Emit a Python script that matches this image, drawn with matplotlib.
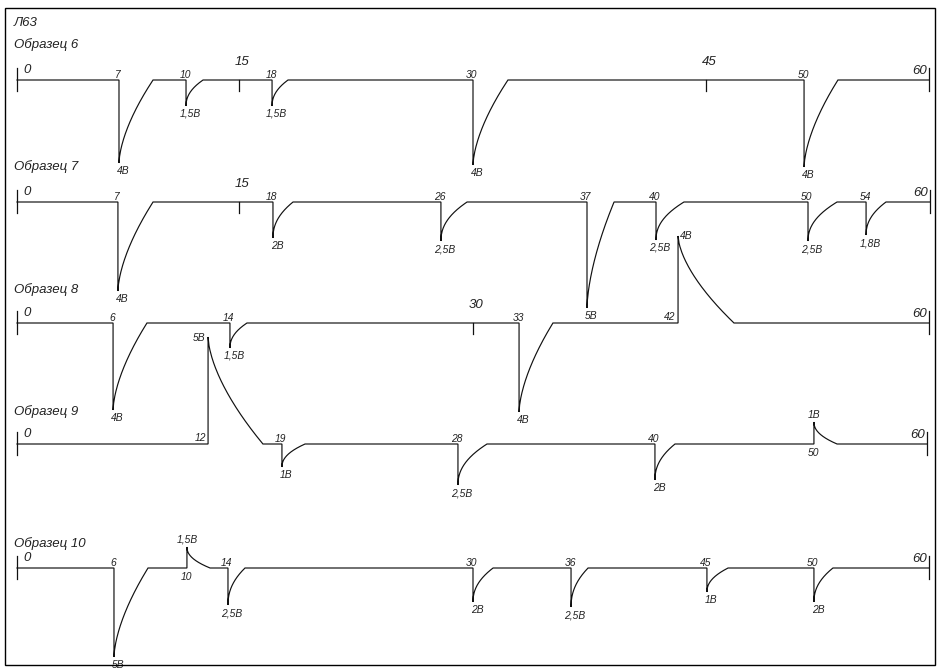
import numpy as np
import matplotlib
matplotlib.use("Agg")
import matplotlib.pyplot as plt
from matplotlib.patches import Rectangle

# ---------------- data ----------------
title = "Л63"
sample_names = ["Образец 6", "Образец 7", "Образец 8", "Образец 9", "Образец 10"]

# scale marks: drawn position (min) and label
s6_pos = [0, 14.61, 45.33, 60.0]; s6_lbl = ["0", "15", "45", "60"]
s7_pos = [0, 14.61, 60.07];       s7_lbl = ["0", "15", "60"]
s8_pos = [0, 30.0, 60.0];         s8_lbl = ["0", "30", "60"]
s9_pos = [0, 59.87];              s9_lbl = ["0", "60"]
s10_pos = [0, 60.0];              s10_lbl = ["0", "60"]

# events: time label, drawn position (min), end of relaxation (min),
# drawn deflection (negative = down), voltage label
t6_lbl = ["7", "10", "18", "30", "50"]
t6_pos = [6.71, 11.12, 16.78, 30.0, 51.78]
t6_end = [8.95, 12.24, 17.83, 32.30, 54.01]
t6_amp = [-4.15, -1.30, -1.30, -4.25, -4.35]
t6_volt = ["4В", "1,5В", "1,5В", "4В", "4В"]

t7_lbl = ["7", "18", "26", "37", "40", "50", "54"]
t7_pos = [6.64, 16.84, 27.89, 37.50, 42.04, 52.04, 55.86]
t7_end = [8.95, 18.16, 29.61, 39.28, 43.88, 53.95, 57.17]
t7_amp = [-4.45, -1.80, -1.95, -5.30, -1.90, -1.95, -1.65]
t7_volt = ["4В", "2В", "2,5В", "5В", "2,5В", "2,5В", "1,8В"]

t8_lbl = ["6", "14", "33", "42"]
t8_pos = [6.32, 14.01, 33.03, 43.49]
t8_end = [8.55, 15.13, 35.26, 47.17]
t8_amp = [-4.35, -1.25, -4.45, 4.35]
t8_volt = ["4В", "1,5В", "4В", "4В"]

t9_lbl = ["12", "19", "28", "40", "50"]
t9_pos = [12.57, 17.43, 29.01, 41.97, 52.43]
t9_end = [16.18, 18.95, 30.92, 43.29, 53.95]
t9_amp = [5.35, -1.15, -2.05, -1.80, 1.10]
t9_volt = ["5В", "1В", "2,5В", "2В", "1В"]

t10_lbl = ["6", "10", "14", "30", "36", "45", "50"]
t10_pos = [6.38, 11.18, 13.88, 30.0, 36.45, 45.39, 52.43]
t10_end = [8.62, 12.70, 15.0, 31.32, 37.57, 46.78, 53.68]
t10_amp = [-4.45, 1.05, -1.85, -1.70, -1.95, -1.20, -1.70]
t10_volt = ["5В", "1,5В", "2,5В", "2В", "2,5В", "1В", "2В"]

# ---------------- layout ----------------
W, H = 945, 669
FAM = ["Liberation Sans", "DejaVu Sans"]
plt.rcParams["font.family"] = FAM
TXT = "#222222"

fig = plt.figure(figsize=(W / 100, H / 100), dpi=100)
ax = fig.add_axes([0, 0, 1, 1])
ax.set_xlim(-17 / 15.2, (W - 17) / 15.2)
ax.set_ylim(-H / 20, 0)
ax.axis("off")

fig.patches.append(Rectangle((5 / W, 1 - 665 / H), 930 / W, 657 / H,
                             transform=fig.transFigure, fill=False,
                             lw=1.0, ec="black"))

def ftext(px, py, s, size=9.5):
    fig.text(px / W, 1 - py / H, s, fontsize=size, style="italic",
             color=TXT, ha="left", va="center")

ftext(14, 23, title)
name_y = [45, 167, 290, 412, 544]
baselines = [-80 / 20, -202 / 20, -323 / 20, -444 / 20, -568 / 20]

rows = [
    (s6_pos, s6_lbl, t6_lbl, t6_pos, t6_end, t6_amp, t6_volt),
    (s7_pos, s7_lbl, t7_lbl, t7_pos, t7_end, t7_amp, t7_volt),
    (s8_pos, s8_lbl, t8_lbl, t8_pos, t8_end, t8_amp, t8_volt),
    (s9_pos, s9_lbl, t9_lbl, t9_pos, t9_end, t9_amp, t9_volt),
    (s10_pos, s10_lbl, t10_lbl, t10_pos, t10_end, t10_amp, t10_volt),
]

def lab(x, y, s, dx, dy, size=7.4, ha="center"):
    ax.annotate(s, (x, y), xytext=(dx, dy), textcoords="offset pixels",
                fontsize=size, style="italic", color=TXT, ha=ha, va="center")

u = np.linspace(0, 1, 60)
for r, (spos, slbl, tl, tp, te, ta, tv) in enumerate(rows):
    base = baselines[r]
    ftext(14, name_y[r], sample_names[r])
    xs, ys = [spos[0]], [base]
    for p, e, a in zip(tp, te, ta):
        xs += [p, p]
        ys += [base, base + a]
        ex = 0.62 if abs(a) > 3 else 0.45
        xs += list(p + (e - p) * u)
        ys += list(base + a * (1 - u ** ex))
    xs.append(spos[-1]); ys.append(base)
    ax.plot(xs, ys, color="#111111", lw=0.85, solid_joinstyle="miter")

    # scale marks
    for k, (sp, sl) in enumerate(zip(spos, slbl)):
        if k == 0 or k == len(spos) - 1:
            ax.plot([sp, sp], [base + 0.6, base - 0.55], color="#111111", lw=0.9)
            if k == 0:
                lab(sp, base, sl, 10, 10, size=9.5)
            else:
                lab(sp, base, sl, -9, 9, size=9.5)
        else:
            ax.plot([sp, sp], [base, base - 0.55], color="#111111", lw=0.9)
            lab(sp, base, sl, 3, 18, size=9.5)

    # event labels
    for p, a, t, v in zip(tp, ta, tl, tv):
        if a < 0:
            lab(p, base, t, -1, 5)
            lab(p, base + a, v, 4, -8)
        elif a > 3:
            lab(p, base, t, -8, 6)
            if r == 2:
                lab(p, base + a, v, 8, 0)
            else:
                lab(p, base + a, v, -9, -1)
        else:
            lab(p, base, t, 0, -9)
            lab(p, base + a, v, 0, 7)

fig.savefig("out.png", dpi=100)
